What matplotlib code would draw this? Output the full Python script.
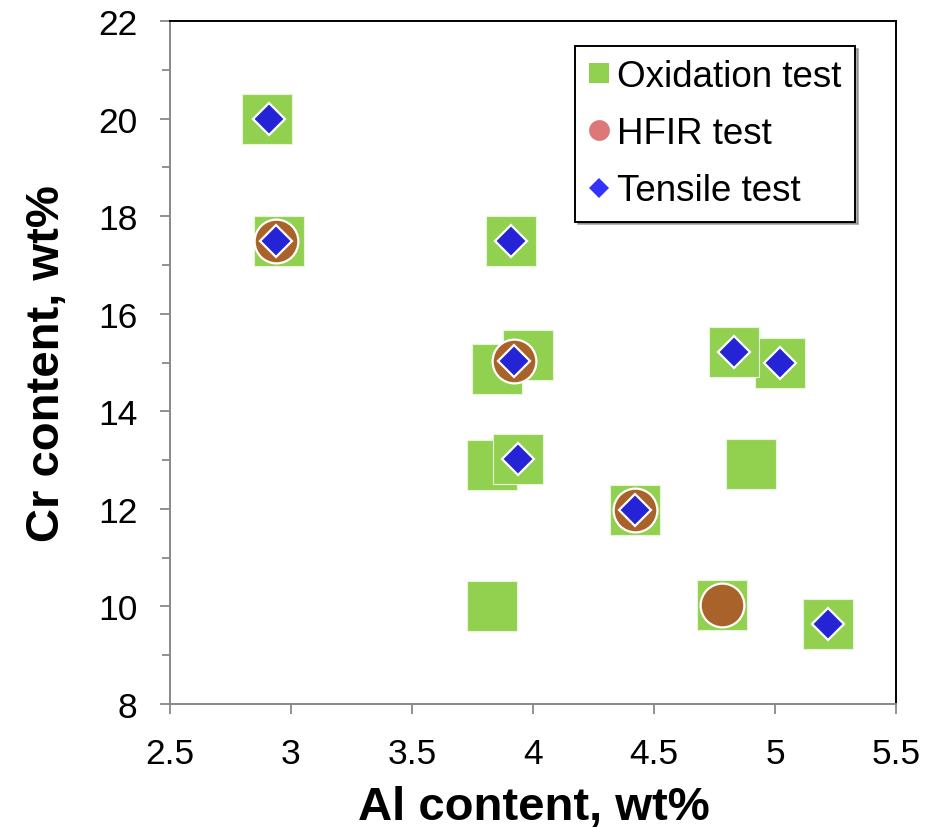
import matplotlib
matplotlib.use("Agg")
import matplotlib.pyplot as plt
from matplotlib.lines import Line2D
from matplotlib.ticker import MultipleLocator

plt.rcParams['font.family'] = ['Liberation Sans', 'DejaVu Sans']

# ---------- Data (wt%) ----------

# Alloys in the oxidation test
ox_al = [2.90, 2.95, 3.91, 3.85, 3.98, 3.83, 3.94, 5.02, 4.83, 4.90, 4.42, 4.78, 5.22, 3.83]
ox_cr = [20.0, 17.5, 17.5, 14.87, 15.15, 12.90, 13.02, 14.98, 15.22, 12.92, 11.97, 10.02, 9.65, 10.0]

# Alloys in the HFIR irradiation test
hfir_al = [2.94, 3.92, 4.42, 4.78]
hfir_cr = [17.5, 15.03, 11.98, 10.03]

# Alloys in the tensile test
ten_al = [2.91, 2.94, 3.91, 3.92, 3.94, 4.42, 4.83, 5.02, 5.22]
ten_cr = [20.0, 17.5, 17.5, 15.03, 13.02, 11.97, 15.21, 14.98, 9.65]

series_labels = ["Oxidation test", "HFIR test", "Tensile test"]

GREEN = "#92D050"
BROWN = "#A9632A"
BLUE = "#2424D6"


# ---------- Plot ----------

fig = plt.figure(figsize=(9.36, 8.29), dpi=100)
ax = fig.add_axes([170 / 936, 1 - 705 / 829, 726 / 936, 683 / 829])

ax.plot(ox_al, ox_cr, ls="none", marker="s", markersize=36.5,
        markerfacecolor=GREEN, markeredgecolor="#E8F5D8", markeredgewidth=0.8, zorder=2)
ax.plot(hfir_al, hfir_cr, ls="none", marker="o", markersize=31.5,
        markerfacecolor=BROWN, markeredgecolor="white", markeredgewidth=1.6, zorder=3)
ax.plot(ten_al, ten_cr, ls="none", marker="D", markersize=16.5,
        markerfacecolor=BLUE, markeredgecolor="white", markeredgewidth=1.6, zorder=4)

# Axis limits and ticks
ax.set_xlim(2.5, 5.5)
ax.set_ylim(8, 22)
ax.xaxis.set_major_locator(MultipleLocator(0.5))
ax.yaxis.set_major_locator(MultipleLocator(2))
ax.yaxis.set_minor_locator(MultipleLocator(1))
ax.xaxis.set_major_formatter(plt.FuncFormatter(lambda v, p: f"{v:g}"))

ax.tick_params(axis="both", which="major", direction="out", length=7.5, width=1.3,
               color="#888888", labelsize=25.5, pad=16)
ax.tick_params(axis="y", which="minor", direction="out", length=5.5, width=1.3, color="#888888")

# Spines: grey left/bottom, black top/right
for side in ["left", "bottom"]:
    ax.spines[side].set_color("#888888")
    ax.spines[side].set_linewidth(1.4)
for side in ["top", "right"]:
    ax.spines[side].set_color("black")
    ax.spines[side].set_linewidth(1.4)

# Axis titles
fig.text(534 / 936, 1 - 808 / 829, "Al content, wt%", fontsize=34, fontweight="bold",
         ha="center", va="center")
fig.text(47 / 936, 1 - 364 / 829, "Cr content, wt%", fontsize=34, fontweight="bold",
         ha="center", va="center", rotation=90)

# Legend with plain markers
handles = [
    Line2D([], [], ls="none", marker="s", markersize=14.5, markerfacecolor=GREEN, markeredgewidth=0),
    Line2D([], [], ls="none", marker="o", markersize=15, markerfacecolor="#DE7878", markeredgewidth=0),
    Line2D([], [], ls="none", marker="D", markersize=10, markerfacecolor="#3333FF", markeredgewidth=0),
]
leg = ax.legend(handles, series_labels, loc="upper right",
                bbox_to_anchor=(855 / 936, 1 - 47 / 829), bbox_transform=fig.transFigure,
                borderaxespad=0, fontsize=26.5, frameon=True, fancybox=False,
                shadow={"color": "0.45", "alpha": 0.55},
                handlelength=0.55, handletextpad=0.23, labelspacing=0.6, borderpad=0.36)
leg.get_frame().set_edgecolor("black")
leg.get_frame().set_linewidth(1.4)
leg.get_frame().set_alpha(1)

fig.savefig("out.png", dpi=100)
